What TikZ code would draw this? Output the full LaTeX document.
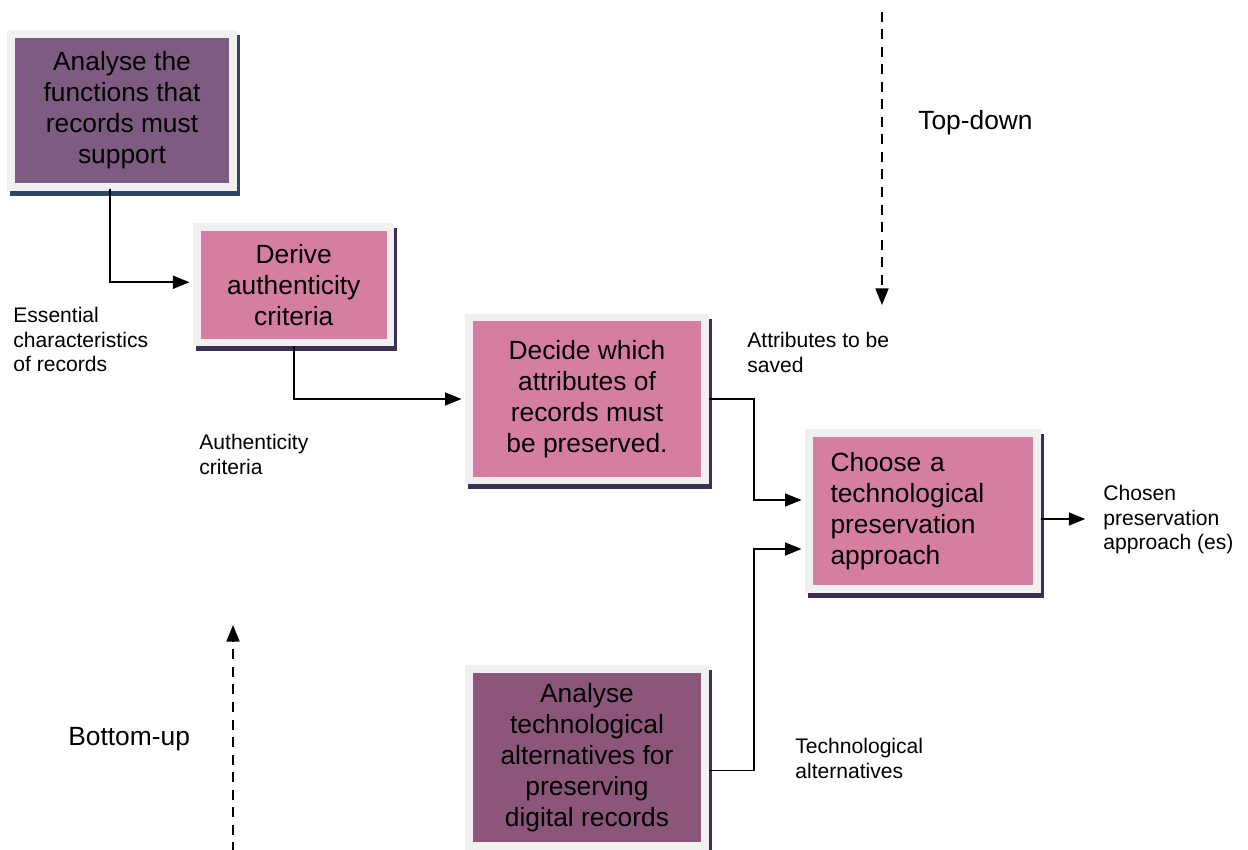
\documentclass[tikz,border=0pt]{standalone}
\usepackage{fontspec}
\setmainfont{Liberation Sans}
\usetikzlibrary{arrows.meta}
\definecolor{plum}{HTML}{7E5B81}
\definecolor{plumdark}{HTML}{8B5679}
\definecolor{rose}{HTML}{D67EA2}
\definecolor{framegray}{HTML}{F0F0F0}
\definecolor{navyshade}{HTML}{2E4563}
\definecolor{plumshade}{HTML}{3E2E52}
\tikzset{
  procbox/.style={draw=framegray, line width=1.5mm, inner sep=0pt, align=center, text=black,
    font=\fontsize{15}{17.6}\selectfont,
    preaction={draw=#1, fill=#1, line width=1.5mm, transform canvas={shift={(3,5)}}}},
  procbox/.default=plumshade,
  flow/.style={-{Triangle[length=3.3mm,width=2.6mm]}, line width=.32mm, shorten >=.75mm},
  dashflow/.style={-{Triangle[length=3.3mm,width=2.6mm]}, line width=.3mm, dash pattern=on 2mm off 1.5mm},
  lbl/.style={anchor=north west, inner sep=0pt, align=left, font=\fontsize{12}{13.9}\selectfont}
}
\begin{document}
\begin{tikzpicture}[x=.2mm, y=-.2mm, line join=miter]
\useasboundingbox (0,0) rectangle (1248,850);
\node[procbox=navyshade, fill=plum, minimum width=44.3mm, minimum height=30.6mm] (fun) at (122,110.5)
  {Analyse the\\functions that\\records must\\support};
\node[procbox, fill=rose, minimum width=38.7mm, minimum height=23.1mm] (der) at (293.75,284.75)
  {Derive\\authenticity\\criteria};
\node[procbox, fill=rose, minimum width=47.2mm, minimum height=32.6mm] (dec) at (587,399)
  {Decide which\\attributes of\\records must\\be preserved.};
\node[procbox, fill=rose, minimum width=45.6mm, minimum height=31.1mm, text width=37mm, align=left] (cho) at (923,511)
  {Choose a\\technological\\preservation\\approach};
\node[procbox, fill=plumdark, minimum width=47.2mm, minimum height=35.4mm] (alt) at (587,757.5)
  {Analyse\\technological\\alternatives for\\preserving\\digital records};
\path
  (cho.west) ++(0,-11) coordinate (cin1) ++(0,49) coordinate (cin2)
  (1089,519) coordinate (out)
  (882,12) coordinate (td1)
  (882,305) coordinate (td2)
  (233,852) coordinate (bu1)
  (233,625) coordinate (bu2);
\draw[flow] ([xshift=-2.4mm,yshift=.4mm]fun.south) |- ([yshift=.5mm]der.west);
\draw[flow] (der.south) |- (dec.west);
\draw[flow] (dec.east) -- ++(45,0) |- (cin1);
\draw[flow] ([yshift=-2.6mm]alt.east) -- ++(45,0) |- (cin2);
\draw[flow] ([yshift=-1.6mm]cho.east) -- (out);
\draw[dashflow] (td1) -- (td2);
\draw[dashflow] (bu1) -- (bu2);
\foreach \nm/\pos/\txt in {ess/{13,307}/{Essential\\characteristics\\of records},
  auth/{199,434}/{Authenticity\\criteria}, attr/{747,332}/{Attributes to be\\saved},
  tech/{795,738}/{Technological\\alternatives}, chos/{1103,485}/{Chosen\\preservation\\approach (es)}}
  \node[lbl] (\nm) at (\pos) {\txt};
\node[lbl, font=\fontsize{15}{18}\selectfont] (topdown) at (918,110) {Top-down};
\node[lbl, font=\fontsize{15}{18}\selectfont] (bottomup) at (68,727) {Bottom-up};
\end{tikzpicture}
\end{document}
